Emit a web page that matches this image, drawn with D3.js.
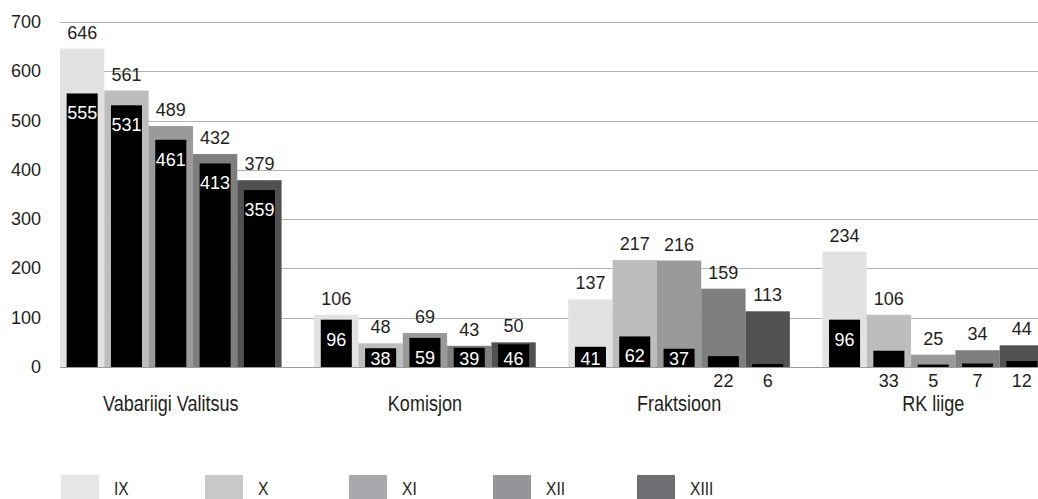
<!DOCTYPE html>
<html>
<head>
<meta charset="utf-8">
<script src="https://cdn.jsdelivr.net/npm/d3@7"></script>
<style>
    body { margin: 0; background: #fff; }
    svg text { font-family: "Liberation Sans", Arial, sans-serif; fill: #231f20; }
</style>
</head>
<body>
<div id="chart"></div>
<script>
// Data
const categories = ['Vabariigi Valitsus', 'Komisjon', 'Fraktsioon', 'RK liige'];
const sessions = ['IX', 'X', 'XI', 'XII', 'XIII'];

// totals per category, one value per session
const totals = [
    [646, 561, 489, 432, 379],
    [106, 48, 69, 43, 50],
    [137, 217, 216, 159, 113],
    [234, 106, 25, 34, 44]
];

// the black inner bars
const inner = [
    [555, 531, 461, 413, 359],
    [96, 38, 59, 39, 46],
    [41, 62, 37, 22, 6],
    [96, 33, 5, 7, 12]
];

const yTicks = [0, 100, 200, 300, 400, 500, 600, 700];

// Styles
const barColors = ['#e2e2e2', '#bdbdbd', '#9a9a9a', '#7e7e7e', '#515151'];
const legendColors = ['#e6e7e8', '#c7c8ca', '#a7a9ac', '#939598', '#6d6e71'];
const narrow = 0.82; // no condensed font installed, squeeze the words instead

const width = 1038;
const height = 499;
const margin = { top: 22, right: 0, bottom: 132, left: 60 };

const svg = d3.select('#chart')
    .append('svg')
    .attr('width', width)
    .attr('height', height);

// Scales
const x0 = d3.scaleBand()
    .domain(categories)
    .range([margin.left, 1044])
    .paddingInner(0.128)
    .paddingOuter(0);

const x1 = d3.scaleBand()
    .domain(sessions)
    .range([0, x0.bandwidth()]);

const y = d3.scaleLinear()
    .domain([0, 700])
    .range([height - margin.bottom, margin.top]);

const y0 = y(0);

// Grid
svg.append('g')
    .selectAll('line')
    .data(yTicks)
    .join('line')
    .attr('x1', margin.left)
    .attr('x2', width)
    .attr('y1', d => Math.round(y(d)) + 0.5)
    .attr('y2', d => Math.round(y(d)) + 0.5)
    .attr('stroke', d => d === 0 ? '#9a9a9a' : '#b3b3b3')
    .attr('stroke-width', 1);

// Y axis labels
svg.append('g')
    .selectAll('text')
    .data(yTicks)
    .join('text')
    .attr('x', 41)
    .attr('y', d => y(d) + 6)
    .attr('text-anchor', 'end')
    .style('font-size', '18px')
    .text(d => d);

// flatten into one row per bar
const rows = [];
categories.forEach((c, ci) => {
    sessions.forEach((s, si) => {
        rows.push({ c, s, si, total: totals[ci][si], inner: inner[ci][si] });
    });
});

const groups = svg.append('g')
    .selectAll('g')
    .data(rows)
    .join('g')
    .attr('transform', d => `translate(${x0(d.c) + x1(d.s)},0)`);

const bw = x1.bandwidth();
const iw = bw * 0.7;

// outer bars
groups.append('rect')
    .attr('x', 0)
    .attr('width', bw)
    .attr('y', d => y(d.total))
    .attr('height', d => y0 - y(d.total))
    .attr('fill', d => barColors[d.si]);

// inner black bars
groups.append('rect')
    .attr('x', (bw - iw) / 2)
    .attr('width', iw)
    .attr('y', d => y(d.inner))
    .attr('height', d => y0 - y(d.inner))
    .attr('fill', '#000');

// total labels
groups.append('text')
    .attr('x', bw / 2)
    .attr('y', d => y(d.total) - 10)
    .attr('text-anchor', 'middle')
    .style('font-size', '18px')
    .text(d => d.total);

// inner labels: white inside the bar, or black under the axis when too short
const isShort = d => (y0 - y(d.inner)) < 17;

groups.append('text')
    .attr('x', bw / 2)
    .attr('y', d => isShort(d) ? y0 + 20 : Math.min(y(d.inner) + 26, y0 - 2))
    .attr('text-anchor', 'middle')
    .style('font-size', '18px')
    .style('fill', d => isShort(d) ? '#231f20' : '#fff')
    .text(d => d.inner);

// Category labels
svg.append('g')
    .selectAll('text')
    .data(categories)
    .join('text')
    .attr('transform', d => `translate(${x0(d) + x0.bandwidth() / 2},${y0 + 44}) scale(${narrow},1)`)
    .attr('text-anchor', 'middle')
    .style('font-size', '22px')
    .text(d => d);

// Legend
const legend = svg.append('g')
    .selectAll('g')
    .data(sessions)
    .join('g')
    .attr('transform', (d, i) => `translate(${61 + i * 144},475)`);

legend.append('rect')
    .attr('width', 38)
    .attr('height', 24)
    .attr('fill', (d, i) => legendColors[i]);

legend.append('text')
    .attr('transform', `translate(53,20) scale(${narrow},1)`)
    .style('font-size', '19px')
    .text(d => d);
</script>
</body>
</html>
